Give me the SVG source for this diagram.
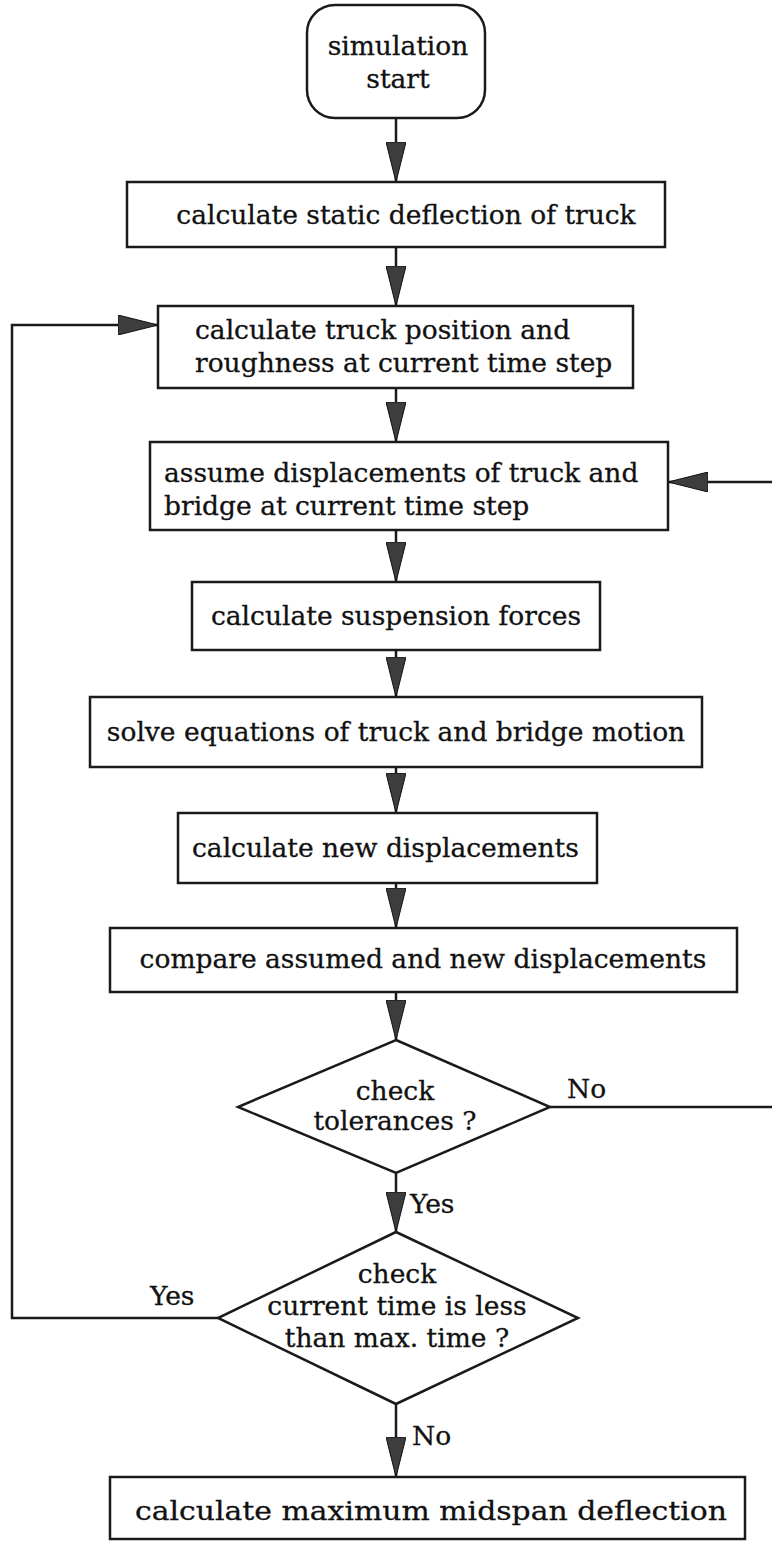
<svg xmlns="http://www.w3.org/2000/svg" width="772" height="1542" viewBox="0 0 772 1542">
  <style>
    .box { fill: #ffffff; stroke: #1a1a1a; stroke-width: 2.5; }
    .lbl { font-family: "DejaVu Serif", "Liberation Serif", serif; font-size: 26.5px; fill: #111111; stroke: #111111; stroke-width: 0.3; }
    .mid { text-anchor: middle; }
    .edge { fill: none; stroke: #1a1a1a; stroke-width: 2.5; }
  </style>
  <defs>
    <marker id="head" markerUnits="userSpaceOnUse" markerWidth="40" markerHeight="20" refX="40" refY="10" orient="auto">
      <path d="M0,0 L40,10 L0,20 Z" fill="#3d3d3d" stroke="#111111" stroke-width="1"/>
    </marker>
  </defs>
  <rect width="772" height="1542" fill="#ffffff"/>

  <!-- connectors -->
  <g id="connectors">
    <path class="edge" d="M396,118 V182" marker-end="url(#head)"/>
    <path class="edge" d="M396,247 V306" marker-end="url(#head)"/>
    <path class="edge" d="M396,388 V442" marker-end="url(#head)"/>
    <path class="edge" d="M396,530 V582" marker-end="url(#head)"/>
    <path class="edge" d="M396,650 V697" marker-end="url(#head)"/>
    <path class="edge" d="M396,767 V813" marker-end="url(#head)"/>
    <path class="edge" d="M396,883 V928" marker-end="url(#head)"/>
    <path class="edge" d="M396,992 V1040" marker-end="url(#head)"/>
    <path class="edge" d="M396,1173 V1232" marker-end="url(#head)"/>
    <path class="edge" d="M396,1404 V1477" marker-end="url(#head)"/>
    <!-- time loop back to truck position -->
    <path class="edge" d="M218,1318 H12 V325 H158" marker-end="url(#head)"/>
    <!-- tolerance loop back to assumed displacements -->
    <path class="edge" d="M550,1107 H772"/>
    <path class="edge" d="M772,482 H668" marker-end="url(#head)"/>
    <text class="lbl" x="410" y="1213">Yes</text>
    <text class="lbl" x="567" y="1098">No</text>
    <text class="lbl" x="150" y="1305">Yes</text>
    <text class="lbl" x="412" y="1445">No</text>
  </g>

  <g id="start">
    <rect class="box" x="307" y="5" width="178" height="113" rx="28"/>
    <text class="lbl mid" x="398" y="55">simulation</text>
    <text class="lbl mid" x="398" y="88">start</text>
  </g>

  <g id="static-deflection">
    <rect class="box" x="127" y="182" width="538" height="65"/>
    <text class="lbl mid" x="406" y="224">calculate static deflection of truck</text>
  </g>

  <g id="truck-position">
    <rect class="box" x="158" y="306" width="475" height="82"/>
    <text class="lbl" x="195" y="339">calculate truck position and</text>
    <text class="lbl" x="195" y="372">roughness at current time step</text>
  </g>

  <g id="assume-displacements">
    <rect class="box" x="150" y="442" width="518" height="88"/>
    <text class="lbl" x="164" y="482">assume displacements of truck and</text>
    <text class="lbl" x="164" y="515">bridge at current time step</text>
  </g>

  <g id="suspension-forces">
    <rect class="box" x="192" y="582" width="408" height="68"/>
    <text class="lbl mid" x="396" y="625">calculate suspension forces</text>
  </g>

  <g id="solve-motion">
    <rect class="box" x="90" y="697" width="612" height="70"/>
    <text class="lbl mid" x="396" y="741">solve equations of truck and bridge motion</text>
  </g>

  <g id="new-displacements">
    <rect class="box" x="178" y="813" width="419" height="70"/>
    <text class="lbl" x="192" y="857">calculate new displacements</text>
  </g>

  <g id="compare">
    <rect class="box" x="110" y="928" width="627" height="64"/>
    <text class="lbl mid" x="423" y="968">compare assumed and new displacements</text>
  </g>

  <g id="check-tolerances">
    <polygon class="box" points="396,1040 550,1107 396,1173 238,1107"/>
    <text class="lbl mid" x="395" y="1100">check</text>
    <text class="lbl mid" x="395" y="1130">tolerances ?</text>
  </g>

  <g id="check-time">
    <polygon class="box" points="396,1232 578,1318 396,1404 218,1318"/>
    <text class="lbl mid" x="397" y="1283">check</text>
    <text class="lbl mid" x="397" y="1315">current time is less</text>
    <text class="lbl mid" x="397" y="1347">than max. time ?</text>
  </g>

  <g id="max-deflection">
    <rect class="box" x="110" y="1477" width="635" height="62"/>
    <text class="lbl mid" x="431" y="1520" textLength="592" lengthAdjust="spacingAndGlyphs">calculate maximum midspan deflection</text>
  </g>
</svg>
